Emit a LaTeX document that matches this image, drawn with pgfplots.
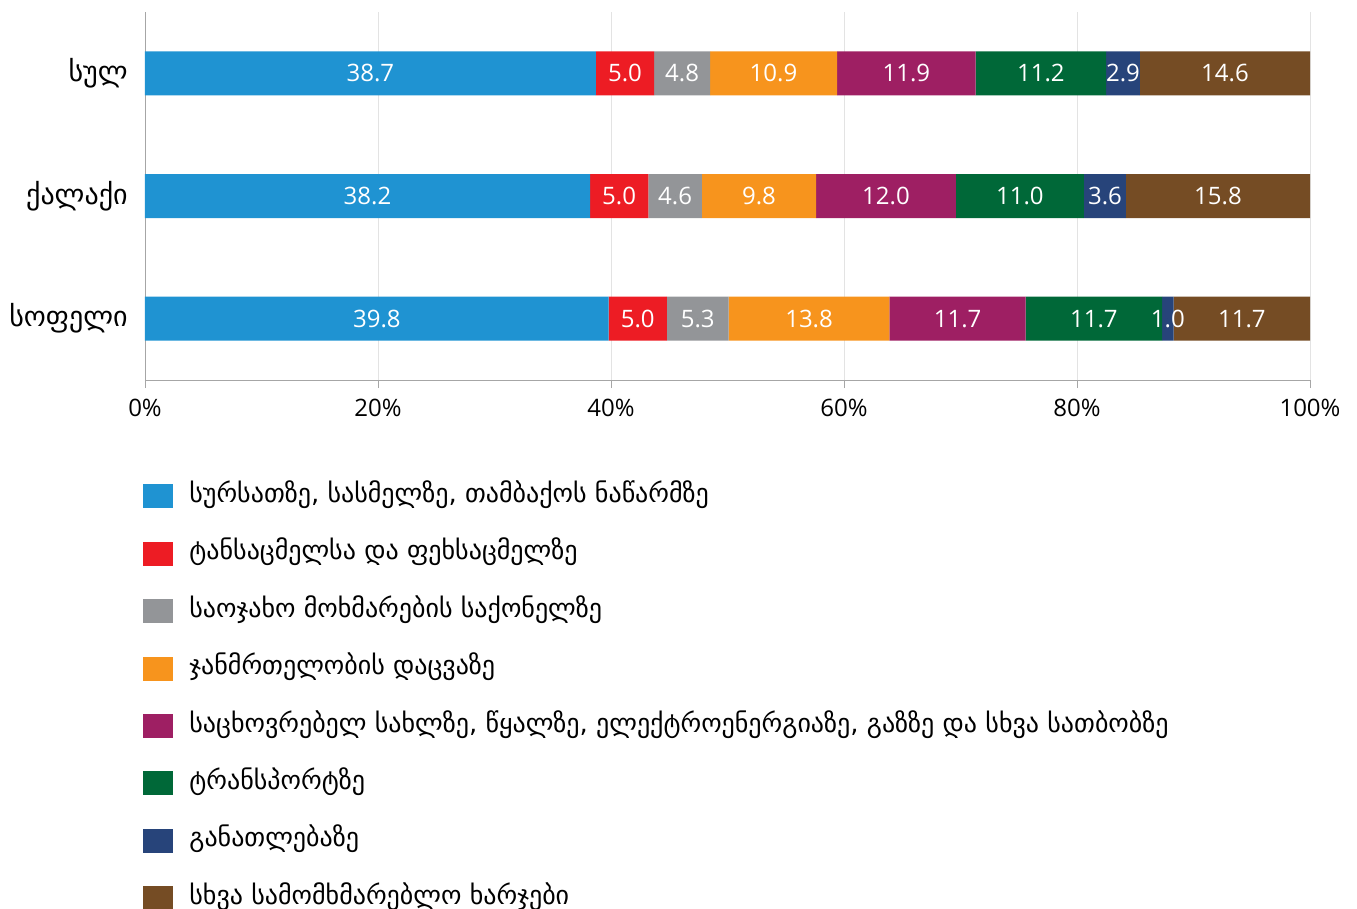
\documentclass[border=0pt]{standalone}
\usepackage{fontspec}
\setmainfont{Open Sans}
\newfontfamily\geo{DejaVu Sans}
\usepackage{pgfplots}
\pgfplotsset{compat=1.18}
\definecolor{c1}{HTML}{1F93D2}
\definecolor{c2}{HTML}{ED1C24}
\definecolor{c3}{HTML}{939598}
\definecolor{c4}{HTML}{F7941D}
\definecolor{c5}{HTML}{9E1F63}
\definecolor{c6}{HTML}{006838}
\definecolor{c7}{HTML}{27447A}
\definecolor{c8}{HTML}{754C24}
\definecolor{axisgray}{HTML}{A6A6A6}
\definecolor{gridgray}{HTML}{E3E3E3}
\begin{document}
\begin{tikzpicture}
\begin{axis}[
  at={(0,0)}, anchor=south west,
  scale only axis, width=582.5pt, height=184pt,
  xbar stacked, bar width=22pt,
  xmin=0, xmax=100, ymin=-0.5, ymax=2.5,
  ytick={0,1,2}, yticklabels={სოფელი,ქალაქი,სულ},
  yticklabel style={font=\geo\fontsize{14}{16}\selectfont, inner sep=0pt, xshift=-4.5pt},
  ytick style={draw=none},
  xtick={0,20,...,100},
  xticklabel={\pgfmathprintnumber{\tick}\%},
  /pgf/number format/assume math mode=true,
  xticklabel style={font=\fontsize{12}{14}\selectfont, yshift=-2pt},
  tick align=outside, major tick length=4pt,
  xtick style={color=axisgray},
  axis x line*=bottom, axis y line*=left,
  axis line style={axisgray, -},
  xmajorgrids, grid style={gridgray},
  legend cell align=left,
  legend style={at={(0,0)}, anchor=north west, xshift=-1pt, yshift=-52pt,
    draw=none, fill=none, inner sep=0pt, row sep=16.7pt,
    font=\geo\fontsize{13}{15}\selectfont,
    nodes={inner sep=0pt, text height=9pt, text depth=3pt}},
  legend image code/.code={\fill[#1] (0pt,-6pt) rectangle (15pt,6pt); \path (23pt,0pt);},
]
\addplot[fill=c1, draw=none] coordinates {(39.8,0) (38.2,1) (38.7,2)};
\addlegendentry{სურსათზე, სასმელზე, თამბაქოს ნაწარმზე}
\addplot[fill=c2, draw=none] coordinates {(5.0,0) (5.0,1) (5.0,2)};
\addlegendentry{ტანსაცმელსა და ფეხსაცმელზე}
\addplot[fill=c3, draw=none] coordinates {(5.3,0) (4.6,1) (4.8,2)};
\addlegendentry{საოჯახო მოხმარების საქონელზე}
\addplot[fill=c4, draw=none] coordinates {(13.8,0) (9.8,1) (10.9,2)};
\addlegendentry{ჯანმრთელობის დაცვაზე}
\addplot[fill=c5, draw=none] coordinates {(11.7,0) (12.0,1) (11.9,2)};
\addlegendentry{საცხოვრებელ სახლზე, წყალზე, ელექტროენერგიაზე, გაზზე და სხვა სათბობზე}
\addplot[fill=c6, draw=none] coordinates {(11.7,0) (11.0,1) (11.2,2)};
\addlegendentry{ტრანსპორტზე}
\addplot[fill=c7, draw=none] coordinates {(1.0,0) (3.6,1) (2.9,2)};
\addlegendentry{განათლებაზე}
\addplot[fill=c8, draw=none] coordinates {(11.7,0) (15.8,1) (14.6,2)};
\addlegendentry{სხვა სამომხმარებლო ხარჯები}
\end{axis}
\begin{axis}[
  at={(0,0)}, anchor=south west,
  scale only axis, width=582.5pt, height=184pt,
  xmin=0, xmax=100, ymin=-0.5, ymax=2.5, hide axis, clip=false,
]
\addplot[only marks, mark=*, mark size=0pt, mark options={draw=none, fill=none},
  nodes near coords, point meta=explicit symbolic,
  nodes near coords style={anchor=center, text=white, font=\fontsize{12}{14}\selectfont, inner sep=0pt}]
  table[meta=label] {
x y label
19.35 2 38.7
41.2 2 5.0
46.1 2 4.8
53.95 2 10.9
65.35 2 11.9
76.9 2 11.2
83.95 2 2.9
92.7 2 14.6
19.1 1 38.2
40.7 1 5.0
45.5 1 4.6
52.7 1 9.8
63.6 1 12.0
75.1 1 11.0
82.4 1 3.6
92.1 1 15.8
19.9 0 39.8
42.3 0 5.0
47.45 0 5.3
57.0 0 13.8
69.75 0 11.7
81.45 0 11.7
87.8 0 1.0
94.15 0 11.7
};
\end{axis}
\pgfresetboundingbox
\path[use as bounding box] (-72.5pt,-264.5pt) rectangle (606pt,190pt);
\end{tikzpicture}
\end{document}
